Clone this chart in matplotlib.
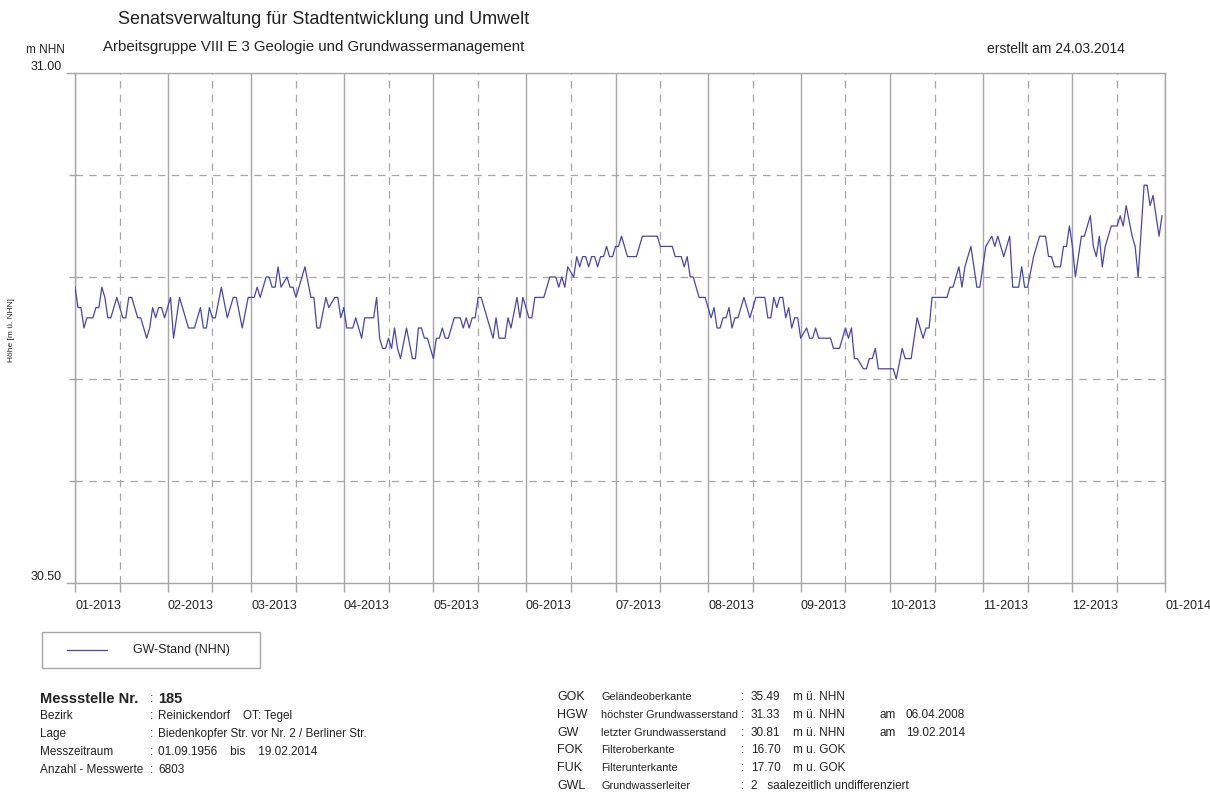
"""
Ganglinie Grundwasserstand Messstelle 185 (2013), nachgebaut mit matplotlib.
"""

import pandas as pd
import matplotlib
matplotlib.use('Agg')
import matplotlib.pyplot as plt
from matplotlib.lines import Line2D
from matplotlib.patches import Rectangle

plt.rcParams['font.family'] = ['Liberation Sans', 'DejaVu Sans']

# day offset from 01.01.2013 and groundwater level in m NHN
day = [0, 1, 2, 3, 4, 6, 7, 8, 9, 10,
       11, 12, 14, 16, 17, 18, 19, 21, 22, 24,
       25, 26, 27, 28, 29, 30, 32, 33, 35, 38,
       40, 42, 43, 44, 45, 46, 47, 49, 51, 53,
       54, 56, 58, 60, 61, 62, 64, 65, 66, 67,
       68, 69, 71, 72, 73, 74, 77, 79, 80, 81,
       82, 84, 85, 87, 88, 89, 90, 91, 93, 94,
       96, 97, 100, 101, 102, 103, 104, 105, 106, 107,
       108, 109, 111, 113, 114, 115, 116, 117, 118, 120,
       121, 122, 123, 124, 125, 127, 129, 130, 131, 132,
       133, 134, 135, 136, 138, 139, 140, 141, 142, 144,
       145, 146, 148, 149, 150, 152, 153, 154, 157, 159,
       161, 162, 163, 164, 165, 167, 168, 169, 170, 171,
       172, 173, 174, 175, 176, 177, 178, 179, 180, 181,
       182, 183, 185, 188, 190, 195, 196, 200, 201, 203,
       204, 205, 206, 207, 209, 211, 212, 213, 214, 215,
       216, 217, 218, 219, 220, 221, 222, 224, 226, 228,
       231, 232, 233, 234, 235, 236, 237, 238, 239, 240,
       241, 242, 243, 245, 246, 247, 248, 249, 253, 254,
       256, 258, 259, 260, 261, 262, 264, 265, 266, 267,
       268, 269, 274, 275, 277, 278, 280, 282, 284, 285,
       286, 287, 292, 293, 294, 296, 297, 298, 300, 302,
       303, 305, 307, 308, 309, 311, 313, 314, 316, 317,
       318, 319, 321, 323, 325, 326, 327, 328, 330, 331,
       332, 333, 334, 335, 337, 338, 340, 341, 342, 343,
       344, 345, 347, 349, 350, 351, 352, 354, 355, 356,
       358, 359, 360, 361, 363, 364]

level = [30.79, 30.77, 30.77, 30.75, 30.76, 30.76, 30.77, 30.77, 30.79, 30.78,
         30.76, 30.76, 30.78, 30.76, 30.76, 30.78, 30.78, 30.76, 30.76, 30.74,
         30.75, 30.77, 30.76, 30.77, 30.77, 30.76, 30.78, 30.74, 30.78, 30.75,
         30.75, 30.77, 30.75, 30.75, 30.77, 30.76, 30.76, 30.79, 30.76, 30.78,
         30.78, 30.75, 30.78, 30.78, 30.79, 30.78, 30.80, 30.80, 30.79, 30.79,
         30.81, 30.79, 30.80, 30.79, 30.79, 30.78, 30.81, 30.78, 30.78, 30.75,
         30.75, 30.78, 30.77, 30.78, 30.78, 30.76, 30.77, 30.75, 30.75, 30.76,
         30.74, 30.76, 30.76, 30.78, 30.74, 30.73, 30.73, 30.74, 30.73, 30.75,
         30.73, 30.72, 30.75, 30.72, 30.72, 30.75, 30.75, 30.74, 30.74, 30.72,
         30.74, 30.74, 30.75, 30.74, 30.74, 30.76, 30.76, 30.75, 30.76, 30.75,
         30.76, 30.76, 30.78, 30.78, 30.76, 30.75, 30.74, 30.76, 30.74, 30.74,
         30.76, 30.75, 30.78, 30.76, 30.78, 30.76, 30.76, 30.78, 30.78, 30.80,
         30.80, 30.79, 30.80, 30.79, 30.81, 30.80, 30.82, 30.81, 30.82, 30.82,
         30.81, 30.82, 30.82, 30.81, 30.82, 30.82, 30.83, 30.82, 30.82, 30.83,
         30.83, 30.84, 30.82, 30.82, 30.84, 30.84, 30.83, 30.83, 30.82, 30.82,
         30.81, 30.82, 30.80, 30.80, 30.78, 30.78, 30.77, 30.76, 30.77, 30.75,
         30.75, 30.76, 30.76, 30.77, 30.75, 30.76, 30.76, 30.78, 30.76, 30.78,
         30.78, 30.76, 30.76, 30.78, 30.77, 30.78, 30.78, 30.76, 30.77, 30.75,
         30.76, 30.76, 30.74, 30.75, 30.74, 30.74, 30.75, 30.74, 30.74, 30.73,
         30.73, 30.75, 30.74, 30.75, 30.72, 30.72, 30.71, 30.71, 30.72, 30.72,
         30.73, 30.71, 30.71, 30.70, 30.73, 30.72, 30.72, 30.76, 30.74, 30.75,
         30.75, 30.78, 30.78, 30.79, 30.79, 30.81, 30.79, 30.81, 30.83, 30.79,
         30.79, 30.83, 30.84, 30.83, 30.84, 30.82, 30.84, 30.79, 30.79, 30.81,
         30.79, 30.79, 30.82, 30.84, 30.84, 30.82, 30.82, 30.81, 30.81, 30.83,
         30.83, 30.85, 30.83, 30.80, 30.84, 30.84, 30.86, 30.83, 30.82, 30.84,
         30.81, 30.83, 30.85, 30.85, 30.86, 30.85, 30.87, 30.84, 30.83, 30.80,
         30.89, 30.89, 30.87, 30.88, 30.84, 30.86]

month_labels = ['01-2013', '02-2013', '03-2013', '04-2013', '05-2013', '06-2013',
                '07-2013', '08-2013', '09-2013', '10-2013', '11-2013', '12-2013',
                '01-2014']
y_grid = [30.6, 30.7, 30.8, 30.9]

info_left = [('Bezirk', 'Reinickendorf    OT: Tegel'),
             ('Lage', 'Biedenkopfer Str. vor Nr. 2 / Berliner Str.'),
             ('Messzeitraum', '01.09.1956    bis    19.02.2014'),
             ('Anzahl - Messwerte', '6803')]

info_right = [('GOK', 'Geländeoberkante', '35.49', 'm ü. NHN', '', ''),
              ('HGW', 'höchster Grundwasserstand', '31.33', 'm ü. NHN', 'am', '06.04.2008'),
              ('GW', 'letzter Grundwasserstand', '30.81', 'm ü. NHN', 'am', '19.02.2014'),
              ('FOK', 'Filteroberkante', '16.70', 'm u. GOK', '', ''),
              ('FUK', 'Filterunterkante', '17.70', 'm u. GOK', '', ''),
              ('GWL', 'Grundwasserleiter', '2   saalezeitlich undifferenziert', '', '', '')]

W, H = 1210, 800
GRID = '#a6a6a6'
LINE = '#4545b5'
TXT = '#222222'

fig = plt.figure(figsize=(W / 100, H / 100), dpi=100)
ax = fig.add_axes([75 / W, 1 - 583 / H, 1090 / W, 510 / H])


def ftext(x, y, s, **kw):
    # place text by pixel position (from top-left)
    kw.setdefault('va', 'center')
    kw.setdefault('color', TXT)
    fig.text(x / W, 1 - y / H, s, **kw)


dates = pd.Timestamp('2013-01-01') + pd.to_timedelta(day, unit='D')
ax.plot(dates, level, color=LINE, linewidth=0.9, zorder=3)

months = pd.date_range('2013-01-01', '2014-01-01', freq='MS')
mids = months[:-1] + pd.Timedelta(days=15)
for m in months:
    ax.axvline(m, color=GRID, linewidth=1.0, zorder=1)
for m in mids:
    ax.axvline(m, color=GRID, linewidth=0.9, linestyle=(0, (6, 5)), zorder=1)
for v in y_grid:
    ax.axhline(v, color=GRID, linewidth=0.9, linestyle=(0, (6, 5)), zorder=1)

ax.set_xlim(months[0], months[-1])
ax.set_ylim(30.5, 31.0)

ax.set_xticks(months, month_labels)
ax.set_xticks(mids, minor=True)
for lbl in ax.get_xticklabels():
    lbl.set_horizontalalignment('left')
ax.tick_params(axis='x', which='both', direction='out', length=6.5, color=GRID,
               width=1.0, labelsize=9, labelcolor=TXT, pad=6)

ax.set_yticks([30.5, 31.0], ['', ''])
ax.set_yticks(y_grid, minor=True)
ax.tick_params(axis='y', which='major', direction='out', length=6.5, color=GRID, width=1.0)
ax.tick_params(axis='y', which='minor', direction='out', length=4, color=GRID, width=1.0)
ytr = ax.get_yaxis_transform()
ax.text(-0.012, 31.0, '31.00', transform=ytr, ha='right', va='bottom', fontsize=9, color=TXT)
ax.text(-0.012, 30.5, '30.50', transform=ytr, ha='right', va='bottom', fontsize=9, color=TXT)

for sp in ax.spines.values():
    sp.set_color(GRID)
    sp.set_linewidth(1.0)

# header
ftext(118, 20, 'Senatsverwaltung für Stadtentwicklung und Umwelt', fontsize=13)
ftext(103, 47, 'Arbeitsgruppe VIII E 3 Geologie und Grundwassermanagement', fontsize=10.8)
ftext(65, 50, 'm NHN', fontsize=8.5, ha='right')
ftext(1125, 49, 'erstellt am 24.03.2014', fontsize=10, ha='right')
ftext(12, 330, 'Höhe [m ü. NHN]', fontsize=6, rotation=90, ha='center')

# legend box
fig.add_artist(Rectangle((42 / W, 1 - 668 / H), 218 / W, 36 / H, transform=fig.transFigure,
                         fill=False, edgecolor=GRID, linewidth=1.0))
fig.add_artist(Line2D([67 / W, 107 / W], [1 - 650 / H, 1 - 650 / H], transform=fig.transFigure,
                      color=LINE, linewidth=0.9))
ftext(133, 650, 'GW-Stand (NHN)', fontsize=9)

# station info, left block
ftext(40, 699, 'Messstelle Nr.', fontsize=10.5, fontweight='bold')
ftext(150, 699, ':', fontsize=9)
ftext(158, 699, '185', fontsize=10.5, fontweight='bold')
for i, (k, v) in enumerate(info_left):
    y = 716 + 18 * i
    ftext(40, y, k, fontsize=8.5)
    ftext(150, y, ':', fontsize=8.5)
    ftext(158, y, v, fontsize=8.5)

# station info, right block
for i, (abbr, desc, val, unit, am, date) in enumerate(info_right):
    y = 697 + 17.8 * i
    ftext(557, y, abbr, fontsize=9)
    ftext(601, y, desc, fontsize=7.8)
    ftext(741, y, ':', fontsize=8.5)
    ftext(751, y, val, fontsize=8.5)
    ftext(793, y, unit, fontsize=8.5)
    ftext(880, y, am, fontsize=8.5)
    ftext(906, y, date, fontsize=8.5)

plt.savefig('out.png', dpi=100)
plt.close()
